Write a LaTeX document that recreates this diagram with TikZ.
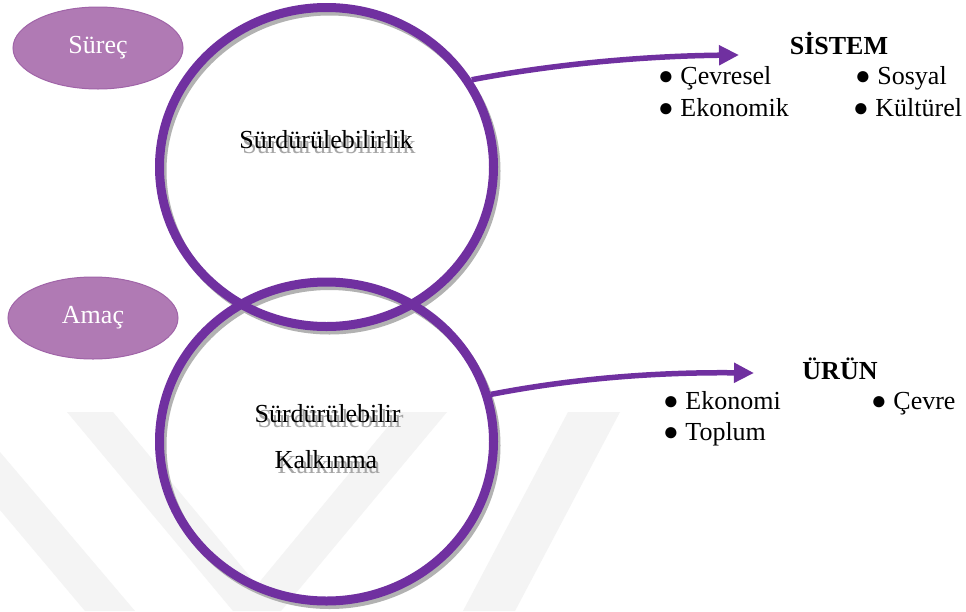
\documentclass[tikz,border=0pt]{standalone}
\usepackage{fontspec}
\setmainfont{Liberation Serif}
\usetikzlibrary{arrows.meta,shapes.geometric}
\definecolor{ringpurple}{HTML}{7030A0}
\definecolor{mauve}{HTML}{B07AB4}
\definecolor{mauveedge}{HTML}{A064A8}
\definecolor{wm}{HTML}{F4F4F4}
\newcommand{\shadowed}[1]{\rlap{\hspace{3pt}\raisebox{-5pt}{\color{black!35}#1}}#1}
\begin{document}
\begin{tikzpicture}[x=1pt,y=-1pt,
  txt/.style={font=\fontsize{26}{30}\selectfont, inner sep=0pt, anchor=base},
  item/.style={txt, anchor=base west},
  head/.style={txt, font=\fontsize{26}{30}\selectfont\bfseries},
  tag/.style={ellipse, fill=mauve, draw=mauveedge, line width=1pt,
    minimum width=170pt, minimum height=82pt, inner sep=0pt,
    text=white, font=\fontsize{26}{30}\selectfont},
  ring/.style={ellipse, draw=ringpurple, line width=9pt,
    minimum width=334pt, minimum height=319pt, inner sep=0pt},
  ringshadow/.style={ellipse, draw=black!30, line width=8pt,
    minimum width=334pt, minimum height=319pt, inner sep=0pt},
  link/.style={draw=ringpurple, line width=5.5pt,
    -{Triangle[length=20pt,width=19pt]}}
]
\useasboundingbox (0,0) rectangle (966,611);
\fill[white] (0,0) rectangle (966,611);

% faint watermark
\fill[wm] (67,412) -- (113,412) -- (257,585) -- (400,412) -- (447,412)
  -- (281,611) -- (233,611) -- cycle;
\fill[wm] (0,452) -- (135,611) -- (85,611) -- (0,510) -- cycle;
\fill[wm] (463,611) -- (515,611) -- (620,412) -- (568,412) -- cycle;

% tags
\node[tag] (surec) at (98,48) {Süreç};
\node[tag] (amac) at (93,318) {Amaç};

% ring shadows
\node[ringshadow] (topsh) at (329.5,171) {};
\node[ringshadow] (botsh) at (329.5,445.5) {};

% rings
\node[ring] (ringtop) at (326.5,167) {};
\node[ring] (ringbot) at (326.5,441.5) {};

% ring labels
\node[txt] (l1) at (326,148) {\shadowed{Sürdürülebilirlik}};
\node[txt] (l2) at (327.5,422) {\shadowed{Sürdürülebilir}};
\node[txt] (l3) at (326,468) {\shadowed{Kalkınma}};

% arrows
\coordinate (sysend) at (739,55);
\coordinate (prodend) at (754,373);
\draw[link] (ringtop.31) .. controls (560,63) and (650,56) .. (sysend);
\draw[link] (ringbot.16) .. controls (575,378) and (660,372) .. (prodend);

% SISTEM block
\node[head] (sistem) at (839,54) {SİSTEM};
\node[item] (cevresel) at (658,84) {● Çevresel};
\node[item] (sosyal) at (855,84) {● Sosyal};
\node[item] (ekonomik) at (658,116) {● Ekonomik};
\node[item] (kulturel) at (853,116) {● Kültürel};

% URUN block
\node[head] (urun) at (840,379) {ÜRÜN};
\node[item] (ekonomi) at (663,409) {● Ekonomi};
\node[item] (cevre) at (871,409) {● Çevre};
\node[item] (toplum) at (663,440) {● Toplum};
\end{tikzpicture}
\end{document}
